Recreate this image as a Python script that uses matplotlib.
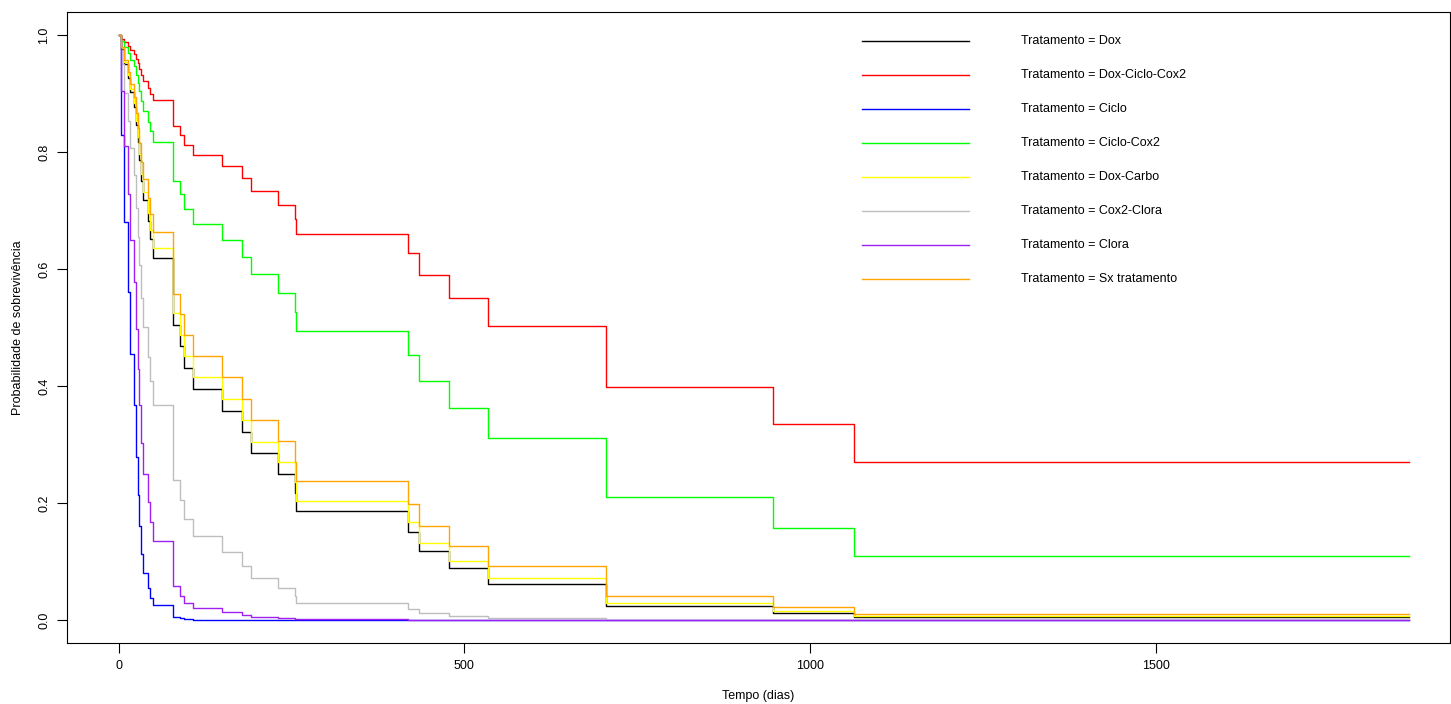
import matplotlib.pyplot as plt
from matplotlib.lines import Line2D

plt.rcParams['font.family'] = ['Liberation Sans', 'DejaVu Sans']

# tempos (dias) em que a sobrevivência muda; cada valor vale até o próximo tempo
tempo = [0, 3, 4, 8, 13, 17, 23, 25, 28, 30, 33, 35, 42, 45, 50, 79, 89, 95,
         107, 149, 178, 192, 230, 255, 256, 418, 434, 478, 535, 705, 947, 1064]
tempo_fim = 1866

dox = [1.0, .987, .976, .951, .927, .902, .877, .846, .817, .787, .751, .718,
       .682, .652, .619, .505, .468, .431, .395, .358, .321, .285, .250, .217,
       .186, .151, .118, .089, .062, .024, .012, .005]
dox_ciclo_cox2 = [1.0, .9968, .9940, .9877, .9815, .9748, .9681, .9595, .9513,
                  .9426, .9317, .9214, .9098, .8997, .8883, .8447, .8290, .8123,
                  .7950, .7759, .7553, .7334, .7101, .6857, .6600, .6269, .5899,
                  .5502, .5032, .3980, .3354, .2702]
ciclo = [1.0, .903, .829, .681, .560, .455, .368, .279, .214, .160, .112, .080,
         .054, .038, .0256, .0054, .0030, .0016, .0008, .0004, .00017, .00007,
         .00003, .00001, 0, 0, 0, 0, 0, 0, 0, 0]
ciclo_cox2 = [1.0, .9945, .9899, .9792, .9687, .9577, .9465, .9323, .9188, .9045,
              .8869, .8704, .8518, .8359, .8179, .7511, .7275, .7028, .6776,
              .6502, .6212, .5910, .5594, .5272, .4943, .4529, .4084, .3629,
              .3119, .2096, .1567, .1086]
dox_carbo = [1.0, .9877, .9773, .9536, .9308, .9070, .8832, .8537, .8260, .7973,
             .7627, .7310, .6963, .6672, .6353, .5240, .4876, .4510, .4153,
             .3784, .3413, .3050, .2694, .2357, .2037, .1672, .1324, .1014,
             .0720, .0294, .0152, .0067]
cox2_clora = [1.0, .9730, .9505, .9003, .8535, .8061, .7601, .7050, .6555, .6062,
              .5497, .5004, .4494, .4090, .3670, .2398, .2046, .1722, .1435,
              .1168, .0930, .0725, .0552, .0410, .0297, .0192, .0115, .0064,
              .0030, .0004, .0001, .00002]
clora = [1.0, .9467, .9035, .8106, .7285, .6498, .5777, .4970, .4296, .3674,
         .3021, .2504, .2019, .1673, .1347, .0575, .0418, .0297, .0206, .0137,
         .0087, .0053, .0030, .0017, .0009, .0004, .0001, 0, 0, 0, 0, 0]
sx_tratamento = [1.0, .9889, .9794, .9580, .9372, .9156, .8938, .8668, .8413,
                 .8148, .7829, .7533, .7209, .6937, .6636, .5576, .5225, .4869,
                 .4520, .4155, .3785, .3419, .3057, .2708, .2374, .1986, .1609,
                 .1264, .0928, .0412, .0228, .0108]

rotulos = ['Tratamento = Dox', 'Tratamento = Dox-Ciclo-Cox2', 'Tratamento = Ciclo',
           'Tratamento = Ciclo-Cox2', 'Tratamento = Dox-Carbo',
           'Tratamento = Cox2-Clora', 'Tratamento = Clora',
           'Tratamento = Sx tratamento']
curvas = [dox, dox_ciclo_cox2, ciclo, ciclo_cox2, dox_carbo, cox2_clora, clora,
          sx_tratamento]
cores = ['#000000', '#FF0000', '#0000FF', '#00FF00', '#FFFF00', '#BEBEBE',
         '#A020F0', '#FFA500']

W, H = 1451, 704
fig = plt.figure(figsize=(W / 100, H / 100), dpi=100)
ax = fig.add_axes([67 / W, (H - 643.4) / H, (1450 - 67) / W, (643.4 - 11.6) / H])

for s, cor in zip(curvas, cores):
    ax.step(tempo + [tempo_fim], s + [s[-1]], where='post', color=cor, lw=1.0)

ax.set_xlim(-74.5, 1925.5)
ax.set_ylim(-0.04, 1.04)
ax.set_xticks([0, 500, 1000, 1500])
ax.set_yticks([0, 0.2, 0.4, 0.6, 0.8, 1.0])
ax.set_yticklabels(['0.0', '0.2', '0.4', '0.6', '0.8', '1.0'], rotation=90, va='center')
ax.tick_params(direction='out', length=7, width=0.8, labelsize=9, pad=5)
for sp in ax.spines.values():
    sp.set_linewidth(0.8)

ax.set_xlabel('Tempo (dias)', fontsize=9, labelpad=13)
ax.set_ylabel('Probabilidade de sobrevivência', fontsize=9, labelpad=10)

# legenda sem moldura, no canto superior direito
for i, (rot, cor) in enumerate(zip(rotulos, cores)):
    y = 1 - (40.7 + 34.1 * i) / H
    fig.add_artist(Line2D([862 / W, 968.7 / W], [y, y], color=cor, lw=1.0))
    fig.text(1021 / W, y, rot, fontsize=9, va='center', ha='left')

fig.savefig('out.png', dpi=100)
